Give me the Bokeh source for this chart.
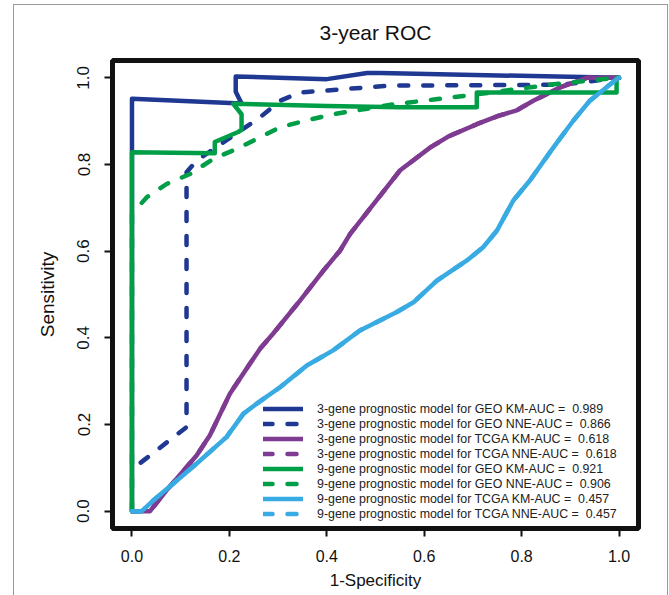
from bokeh.plotting import figure
from bokeh.models import Range1d, Legend, LegendItem, Title, FixedTicker
from bokeh.embed import file_html
from bokeh.resources import INLINE

# ---- data ----
geo3_km_x = [0.0, 0.0, 0.225, 0.213, 0.213, 0.40, 0.483, 0.51, 1.0]
geo3_km_y = [0.0, 0.952, 0.941, 0.968, 1.003, 0.997, 1.011, 1.011, 1.0]

geo3_nne_x = [0.018, 0.112, 0.112, 0.133, 0.263, 0.304, 0.345, 0.53, 0.70, 0.88, 1.0]
geo3_nne_y = [0.112, 0.194, 0.782, 0.809, 0.909, 0.947, 0.966, 0.982, 0.983, 0.984, 1.0]

tcga3_x = [0.0, 0.037, 0.071, 0.133, 0.16, 0.201, 0.242, 0.263, 0.29, 0.345, 0.393, 0.427,
           0.448, 0.502, 0.55, 0.612, 0.65, 0.708, 0.752, 0.79, 0.824, 0.879, 0.934, 1.0]
tcga3_y = [0.0, 0.0, 0.048, 0.129, 0.175, 0.271, 0.34, 0.375, 0.41, 0.486, 0.555, 0.601,
           0.64, 0.717, 0.786, 0.839, 0.865, 0.893, 0.912, 0.925, 0.947, 0.978, 1.0, 1.0]
tcga3_nne_x = list(tcga3_x)
tcga3_nne_y = list(tcga3_y)

geo9_km_x = [0.0, 0.0, 0.17, 0.17, 0.218, 0.225, 0.225, 0.208, 0.40, 0.55, 0.708, 0.708, 0.995, 0.995, 1.0]
geo9_km_y = [0.0, 0.828, 0.826, 0.852, 0.875, 0.880, 0.916, 0.940, 0.935, 0.932, 0.932, 0.966, 0.966, 1.0, 1.0]

geo9_nne_x = [0.0, 0.0, 0.03, 0.071, 0.119, 0.167, 0.215, 0.256, 0.304, 0.352, 0.413,
              0.468, 0.537, 0.62, 0.708, 0.865, 0.995, 1.0]
geo9_nne_y = [0.0, 0.686, 0.724, 0.755, 0.778, 0.813, 0.836, 0.859, 0.886, 0.90, 0.916,
              0.926, 0.939, 0.95, 0.962, 0.985, 1.0, 1.0]

tcga9_x = [0.0, 0.02, 0.044, 0.085, 0.133, 0.194, 0.229, 0.256, 0.304, 0.359, 0.413, 0.468,
           0.543, 0.578, 0.626, 0.687, 0.721, 0.749, 0.783, 0.817, 0.865, 0.906, 0.94, 0.995, 1.0]
tcga9_y = [0.0, 0.0, 0.025, 0.064, 0.11, 0.171, 0.225, 0.248, 0.286, 0.336, 0.371, 0.417,
           0.459, 0.482, 0.532, 0.578, 0.609, 0.647, 0.717, 0.763, 0.839, 0.901, 0.947, 0.997, 1.0]
tcga9_nne_x = list(tcga9_x)
tcga9_nne_y = list(tcga9_y)

labels = [
    "3-gene prognostic model for GEO KM-AUC =  0.989",
    "3-gene prognostic model for GEO NNE-AUC =  0.866",
    "3-gene prognostic model for TCGA KM-AUC =  0.618",
    "3-gene prognostic model for TCGA NNE-AUC =  0.618",
    "9-gene prognostic model for GEO KM-AUC =  0.921",
    "9-gene prognostic model for GEO NNE-AUC =  0.906",
    "9-gene prognostic model for TCGA KM-AUC =  0.457",
    "9-gene prognostic model for TCGA NNE-AUC =  0.457",
]
ticks = [0.0, 0.2, 0.4, 0.6, 0.8, 1.0]
tick_labels = {t: f"{t:.1f}" for t in ticks}

series = [
    (geo3_km_x, geo3_km_y, "#1F3892", "solid"),
    (geo3_nne_x, geo3_nne_y, "#1F3892", "dashed"),
    (tcga3_x, tcga3_y, "#7E3B91", "solid"),
    (tcga3_nne_x, tcga3_nne_y, "#7E3B91", "dashed"),
    (geo9_km_x, geo9_km_y, "#009E47", "solid"),
    (geo9_nne_x, geo9_nne_y, "#009E47", "dashed"),
    (tcga9_x, tcga9_y, "#38ABE2", "solid"),
    (tcga9_nne_x, tcga9_nne_y, "#38ABE2", "dashed"),
]

FONT = "Liberation Sans"

p = figure(width=669, height=595, output_backend="svg", toolbar_location=None,
           x_range=Range1d(-0.04, 1.04), y_range=Range1d(-0.04, 1.04),
           min_border_left=112, min_border_right=31, min_border_top=60, min_border_bottom=67)
p.title = Title(text="3-year ROC", align="center", text_font=FONT, text_font_size="21px",
                text_font_style="normal", text_color="#111111", standoff=33)
p.grid.visible = False
p.outline_line_color = "#111111"
p.outline_line_width = 5
p.background_fill_color = "white"
p.border_fill_alpha = 0
# thin grey panel edge of the original figure (drawn behind the transparent canvas border)
p.styles = {
    "background": ("linear-gradient(#9a9a9a,#9a9a9a) 13px 4px / 1px 100% no-repeat, "
                   "linear-gradient(#9a9a9a,#9a9a9a) 13px 4px / 655px 1px no-repeat, "
                   "linear-gradient(#9a9a9a,#9a9a9a) 667px 4px / 1px 100% no-repeat, white"),
}

for ax in (p.xaxis[0], p.yaxis[0]):
    ax.ticker = FixedTicker(ticks=ticks)
    ax.major_label_overrides = tick_labels
    ax.axis_line_color = None
    ax.minor_tick_line_color = None
    ax.major_tick_in = 0
    ax.major_tick_out = 8
    ax.major_tick_line_width = 2
    ax.major_tick_line_color = "#111111"
    ax.major_label_text_font = FONT
    ax.major_label_text_color = "#111111"
    ax.axis_label_text_font = FONT
    ax.axis_label_text_font_style = "normal"
    ax.axis_label_text_color = "#111111"

p.xaxis.axis_label = "1-Specificity"
p.yaxis.axis_label = "Sensitivity"
p.xaxis.major_label_text_font_size = "16px"
p.yaxis.major_label_text_font_size = "17px"
p.xaxis.axis_label_text_font_size = "17px"
p.yaxis.axis_label_text_font_size = "19px"
p.xaxis.major_label_standoff = 13
p.xaxis.axis_label_standoff = 6
p.yaxis.major_label_orientation = "parallel"
p.yaxis.major_label_standoff = 15
p.yaxis.axis_label_standoff = 17

items = []
for (xs, ys, col, style), lab in zip(series, labels):
    kw = dict(line_color=col, line_width=4.5, line_join="round", line_cap="round")
    if style == "dashed":
        kw["line_dash"] = "9 15"
    r = p.line(xs, ys, **kw)
    items.append(LegendItem(label=lab, renderers=[r]))

legend = Legend(items=items, location=(151, 7), label_text_font=FONT,
                label_text_font_size="12.4px", label_text_color="#222222",
                glyph_width=40, glyph_height=15, label_height=15, spacing=0,
                padding=0, margin=0, label_standoff=14,
                border_line_color=None, background_fill_alpha=0)
p.add_layout(legend, "center")

open("out.html", "w").write(file_html(p, INLINE))
